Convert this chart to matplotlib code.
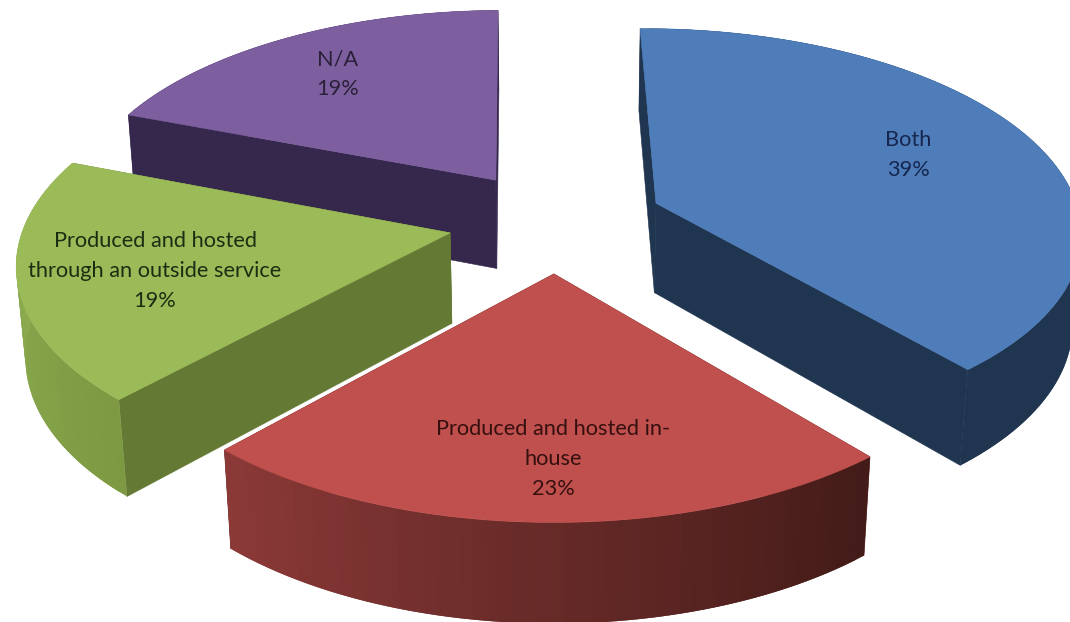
import numpy as np
import matplotlib
matplotlib.use("Agg")
import matplotlib.pyplot as plt
from matplotlib.patches import Polygon

# Survey shares
categories = ["Both", "Produced and hosted in-\nhouse",
              "Produced and hosted\nthrough an outside service", "N/A"]
shares = [39, 23, 19, 19]

# Colours per slice: top, cut face, outer wall at start and end of the arc
top_colors = ["#4E7DB9", "#C0504D", "#9BBB59", "#7D5FA0"]
face_colors = ["#1F3550", "#5A1F1C", "#647A34", "#36284C"]
wall_start = ["#1F3550", "#431B18", "#7D9A42", "#36284C"]
wall_end = ["#1F3550", "#8C3A38", "#93B356", "#36284C"]
text_colors = ["#16264F", "#35100F", "#1C2E12", "#2A2038"]
label_xy = [(908, 155), (553, 459), (155, 271), (338, 74)]

# Camera and pie geometry, in pixels
CX, CY = 556, 221
RADIUS = 425
EXPLODE = 108
HEIGHT = 104
PITCH = np.radians(28.3)
DIST = 2900
START = -0.7


def project(x, y, z):
    v = y * np.sin(PITCH) + z * np.cos(PITCH)
    d = DIST + y * np.cos(PITCH) - z * np.sin(PITCH)
    return CX + DIST * x / d, CY - DIST * v / d


def mix(c1, c2, t):
    a = np.array(matplotlib.colors.to_rgb(c1))
    b = np.array(matplotlib.colors.to_rgb(c2))
    return a + (b - a) * t


def add_poly(ax, pts, color, z, edge=True):
    ax.add_patch(Polygon(pts, closed=True, facecolor=color,
                         edgecolor=color if edge else "none",
                         linewidth=0.4, zorder=z))


fig = plt.figure(figsize=(10.7, 6.22), dpi=100)
ax = fig.add_axes([0, 0, 1, 1])
ax.set_xlim(0, 1070)
ax.set_ylim(622, 0)
ax.axis("off")

# Angles run clockwise from twelve o'clock
fractions = np.array(shares) / sum(shares)
ends = START + np.cumsum(fractions) * 360
starts = ends - fractions * 360

# Back slices first so the front ones cover them
order = [3, 0, 2, 1]
for layer, i in enumerate(order):
    a0, a1 = np.radians(starts[i]), np.radians(ends[i])
    mid = (a0 + a1) / 2
    ox, oy = EXPLODE * np.sin(mid), EXPLODE * np.cos(mid)
    angs = np.append(np.arange(a0, a1, np.radians(1.5)), a1)
    rx = ox + RADIUS * np.sin(angs)
    ry = oy + RADIUS * np.cos(angs)
    base = layer * 10

    # the two cut faces; the one turned away ends up behind the top and wall
    for ex, ey in [(rx[0], ry[0]), (rx[-1], ry[-1])]:
        quad = np.array([project(ox, oy, 0), project(ex, ey, 0),
                         project(ex, ey, -HEIGHT), project(ox, oy, -HEIGHT)])
        add_poly(ax, quad, face_colors[i], base)

    # outer wall: strips overlap the next one so no seams show
    n = len(angs)
    for j in range(n - 1):
        k = min(j + 2, n - 1)
        low = project(rx[j:k + 1], ry[j:k + 1], -HEIGHT)
        high = project(rx[j:k + 1], ry[j:k + 1], 0)
        pts = np.column_stack([np.r_[high[0], low[0][::-1]], np.r_[high[1], low[1][::-1]]])
        add_poly(ax, pts, mix(wall_start[i], wall_end[i], j / (n - 2)), base + 1, edge=False)

    top_x, top_y = project(np.r_[ox, rx], np.r_[oy, ry], 0)
    add_poly(ax, np.column_stack([top_x, top_y]), top_colors[i], base + 2)

for name, share, xy, color in zip(categories, shares, label_xy, text_colors):
    ax.text(xy[0], xy[1], f"{name}\n{share}%", ha="center", va="center", family="Lato",
            fontsize=15.7, color=color, linespacing=1.62, zorder=100)

fig.savefig("out.png", dpi=100, facecolor="white")
